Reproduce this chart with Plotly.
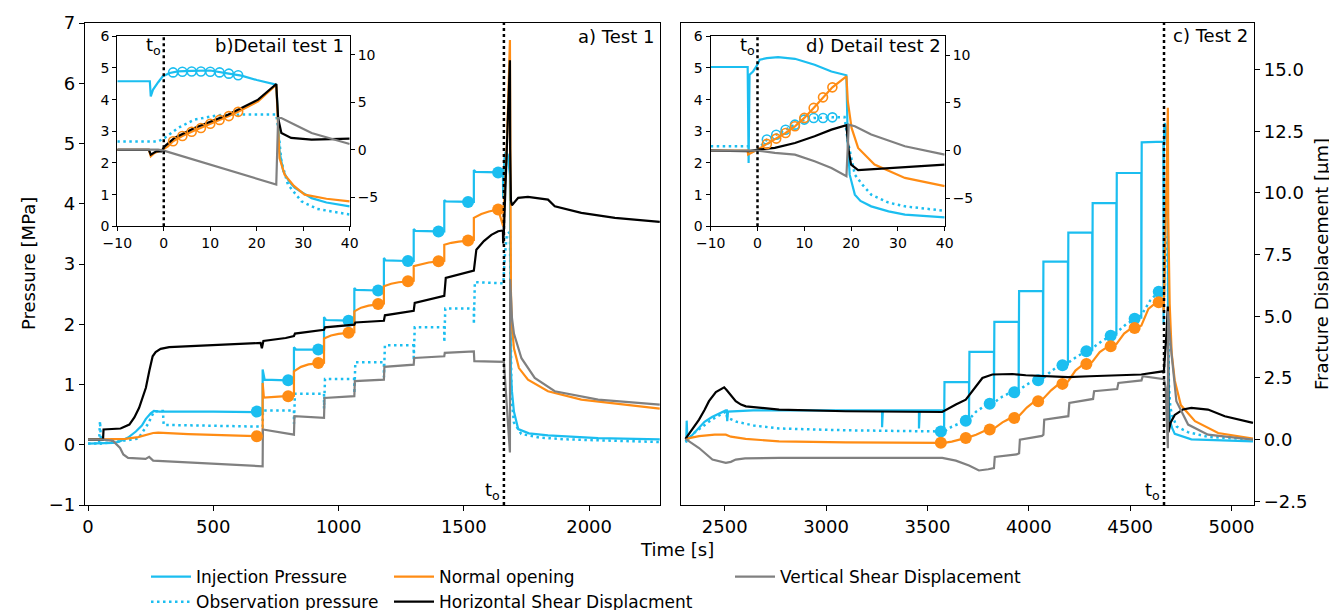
import plotly.graph_objects as go

# ------------------------------------------------------------------ data
# Test 1 (panel a) : time [s]
t0_1 = 1660
t0_2 = 4667

inj1_t = [0, 40, 100, 124, 160, 191, 215, 231, 250, 263, 285, 500, 690, 697, 697, 705, 794, 822, 822, 830,
          913, 942, 942, 950, 1037, 1063, 1063, 1070, 1159, 1181, 1181, 1188, 1275, 1300, 1300, 1307, 1393, 1422, 1422, 1429,
          1524, 1540, 1540, 1547, 1637, 1656, 1657, 1659, 1662, 1667, 1675, 1684, 1685, 1686, 1688, 1692, 1700, 1717, 1760, 1836,
          2036, 2282]
inj1_p = [0.02, 0.02, 0.03, 0.05, 0.12, 0.22, 0.32, 0.43, 0.52, 0.56, 0.55, 0.55, 0.54, 0.54, 1.25, 1.08, 1.07, 1.07, 1.62, 1.58,
          1.58, 1.58, 2.12, 2.07, 2.06, 2.06, 2.60, 2.57, 2.56, 2.56, 3.10, 3.06, 3.05, 3.05, 3.58, 3.55, 3.54, 3.54, 4.06, 4.04,
          4.03, 4.03, 4.56, 4.53, 4.52, 4.55, 4.10, 4.40, 4.74, 4.86, 4.82, 4.47, 2.40, 1.74, 1.21, 0.89, 0.55, 0.26, 0.19, 0.155,
          0.11, 0.09]

obs1_t = [0, 44, 48, 52, 200, 240, 263, 299, 302, 500, 697, 698, 822, 822, 826, 942, 942, 946, 1063, 1063,
          1067, 1181, 1181, 1185, 1300, 1300, 1304, 1422, 1422, 1426, 1540, 1540, 1544, 1658, 1663, 1672, 1684, 1685, 1686, 1687,
          1690, 1700, 1729, 1800, 1903, 2282]
obs1_p = [0.02, 0.02, 0.39, 0.02, 0.1, 0.35, 0.55, 0.56, 0.33, 0.32, 0.30, 0.57, 0.57, 0.35, 0.845, 0.845, 0.6, 1.09, 1.09, 0.85,
          1.37, 1.37, 1.12, 1.65, 1.65, 1.40, 1.95, 1.95, 1.70, 2.26, 2.26, 2.0, 2.70, 2.68, 3.1, 3.5, 3.53, 3.1, 2.05, 1.32,
          0.79, 0.37, 0.18, 0.12, 0.09, 0.045]

nor1_t = [0, 150, 200, 220, 260, 280, 400, 600, 697, 697, 702, 760, 822, 822, 850, 880, 919, 942, 942, 970,
          1000, 1040, 1063, 1063, 1090, 1120, 1158, 1181, 1181, 1210, 1240, 1277, 1300, 1300, 1330, 1360, 1399, 1422, 1422, 1450,
          1480, 1517, 1540, 1540, 1570, 1600, 1637, 1657, 1660, 1672, 1684, 1685, 1686, 1688, 1692, 1700, 1720, 1756, 1836, 1969,
          2282]
nor1_d = [0.0, 0.03, 0.1, 0.15, 0.27, 0.28, 0.22, 0.16, 0.14, 2.3, 1.7, 1.74, 1.78, 2.77, 2.95, 3.05, 3.11, 3.12, 4.1, 4.22,
          4.29, 4.33, 4.35, 5.2, 5.35, 5.43, 5.5, 5.52, 6.22, 6.32, 6.38, 6.42, 6.44, 7.03, 7.12, 7.18, 7.23, 7.25, 7.9, 7.98,
          8.03, 8.07, 8.09, 8.99, 9.15, 9.25, 9.33, 8.65, 9.35, 12.0, 16.2, 10.9, 8.5, 6.0, 4.6, 3.7, 2.9, 2.43, 1.96, 1.62,
          1.26]

hor1_t = [0, 60, 62, 130, 165, 185, 204, 218, 231, 245, 258, 270, 290, 324, 523, 689, 694, 700, 789, 822,
          826, 921, 942, 946, 1054, 1063, 1067, 1178, 1181, 1185, 1297, 1300, 1304, 1420, 1422, 1428, 1537, 1540, 1550, 1580,
          1610, 1637, 1656, 1657, 1659, 1660, 1684, 1685, 1686, 1688, 1692, 1700, 1717, 1756, 1836, 1863, 1969, 2103, 2282]
hor1_d = [0, 0, 0.41, 0.45, 0.61, 0.9, 1.29, 1.7, 2.1, 2.8, 3.38, 3.55, 3.68, 3.75, 3.85, 3.92, 3.7, 4.0, 4.12, 4.2,
          4.3, 4.4, 4.45, 4.55, 4.64, 4.66, 4.75, 4.8, 4.82, 5.04, 5.2, 5.22, 5.54, 5.81, 5.83, 6.56, 6.83, 6.85, 7.7, 8.05,
          8.3, 8.45, 8.48, 7.95, 8.3, 8.45, 15.38, 11.8, 10.2, 9.7, 9.5, 9.6, 9.8, 9.84, 9.73, 9.46, 9.19, 8.99, 8.83]

ver1_t = [0, 60, 100, 128, 141, 160, 230, 244, 260, 390, 523, 697, 698, 815, 822, 824, 940, 942, 944, 1054,
          1063, 1065, 1178, 1181, 1183, 1297, 1300, 1302, 1420, 1422, 1424, 1537, 1540, 1542, 1658, 1660, 1684, 1685, 1688, 1692,
          1700, 1730, 1783, 1863, 2036, 2282]
ver1_d = [0, 0, -0.05, -0.34, -0.6, -0.74, -0.78, -0.7, -0.85, -0.92, -1.01, -1.08, 0.41, 0.2, 0.2, 0.95, 0.88, 0.88, 1.69, 1.76,
          1.76, 2.37, 2.43, 2.43, 2.95, 3.04, 3.04, 3.31, 3.38, 3.38, 3.52, 3.58, 3.58, 3.18, 3.18, 3.15, -0.52, 6.5, 5.83, 4.95,
          4.3, 3.3, 2.5, 1.96, 1.62, 1.42]

mk1_t = [674, 799, 919, 1040, 1158, 1277, 1399, 1517, 1637]
mk1_inj = [0.55, 1.07, 1.58, 2.06, 2.56, 3.05, 3.54, 4.03, 4.52]
mk1_nor = [0.14, 1.76, 3.11, 4.33, 5.5, 6.42, 7.23, 8.07, 9.33]

# Test 2 (panel c)
inj2_t = [2306, 2310, 2312, 2316, 2350, 2400, 2437, 2470, 2505, 2510, 2512, 2516, 2640, 3276, 3276, 3280, 3458, 3458, 3462, 3582,
          3582, 3584, 3705, 3705, 3707, 3828, 3828, 3830, 3950, 3950, 3952, 4070, 4070, 4072, 4193, 4193, 4195, 4313, 4313, 4315,
          4432, 4432, 4434, 4555, 4555, 4557, 4664, 4665, 4666, 4668, 4671, 4675, 4679, 4683, 4686, 4687, 4688, 4691, 4699, 4707,
          4720, 4802, 5106]
inj2_p = [0.05, 0.05, 0.40, 0.08, 0.2, 0.38, 0.46, 0.52, 0.57, 0.57, 0.39, 0.55, 0.57, 0.57, 0.29, 0.57, 0.57, 0.27, 0.57, 0.57,
          0.22, 1.04, 1.04, 0.40, 1.54, 1.54, 0.68, 2.04, 2.04, 0.87, 2.55, 2.55, 1.07, 3.04, 3.04, 1.32, 3.52, 3.52, 1.55, 4.01,
          4.01, 1.81, 4.51, 4.51, 2.09, 5.02, 5.03, 2.0, 4.79, 5.26, 5.34, 5.29, 5.1, 4.89, 4.77, 1.63, 1.0, 0.63, 0.37, 0.28,
          0.18, 0.09, 0.055]

obs2_t = [2306, 2350, 2437, 2505, 2512, 2560, 2642, 2768, 3097, 3566, 3582, 3620, 3660, 3689, 3705, 3740, 3780, 3807, 3828, 3870,
          3900, 3928, 3950, 3990, 4020, 4046, 4070, 4110, 4140, 4166, 4193, 4240, 4284, 4313, 4360, 4404, 4432, 4480, 4522, 4555,
          4600, 4641, 4665, 4667, 4669, 4674, 4678, 4684, 4686, 4687, 4688, 4691, 4698, 4707, 4730, 4785, 4884, 5106]
obs2_p = [0.05, 0.2, 0.42, 0.55, 0.45, 0.38, 0.32, 0.27, 0.24, 0.22, 0.22, 0.30, 0.36, 0.40, 0.42, 0.55, 0.64, 0.68, 0.70, 0.80,
          0.85, 0.87, 0.90, 1.0, 1.05, 1.07, 1.10, 1.22, 1.29, 1.32, 1.36, 1.47, 1.55, 1.60, 1.72, 1.81, 1.86, 2.0, 2.09, 2.15,
          2.40, 2.54, 2.55, 2.45, 2.75, 3.16, 3.37, 3.45, 3.45, 2.68, 1.63, 1.0, 0.63, 0.49, 0.3, 0.21, 0.13, 0.09]

nor2_t = [2306, 2373, 2450, 2505, 2530, 2603, 2768, 3097, 3566, 3582, 3620, 3660, 3689, 3705, 3740, 3780, 3807, 3828, 3870, 3900,
          3928, 3950, 3990, 4020, 4046, 4070, 4110, 4140, 4166, 4193, 4230, 4260, 4284, 4313, 4350, 4380, 4404, 4432, 4470, 4500,
          4522, 4555, 4590, 4620, 4641, 4664, 4665, 4667, 4676, 4686, 4688, 4695, 4705, 4720, 4750, 4820, 4934, 5106]
nor2_d = [0.03, 0.14, 0.2, 0.2, 0.12, 0.03, -0.07, -0.11, -0.13, -0.13, -0.08, 0.0, 0.07, 0.1, 0.2, 0.35, 0.41, 0.45, 0.7, 0.83,
          0.88, 0.95, 1.3, 1.5, 1.56, 1.65, 2.0, 2.2, 2.26, 2.35, 2.8, 3.0, 3.07, 3.15, 3.55, 3.72, 3.79, 3.87, 4.3, 4.48,
          4.53, 4.62, 5.3, 5.5, 5.57, 5.6, 5.18, 5.6, 9.0, 13.45, 9.0, 5.5, 3.5, 2.4, 1.4, 0.75, 0.27, 0.04]

hor2_t = [2306, 2340, 2373, 2400, 2422, 2456, 2485, 2497, 2510, 2530, 2554, 2580, 2604, 2768, 3097, 3573, 3600, 3640, 3689, 3722,
          3771, 3820, 3919, 3985, 4100, 4193, 4300, 4450, 4555, 4662, 4665, 4667, 4675, 4680, 4686, 4687, 4689, 4700, 4720, 4760,
          4802, 4884, 4967, 5106]
hor2_d = [0.03, 0.4, 0.81, 1.2, 1.56, 1.93, 2.08, 2.12, 2.0, 1.8, 1.56, 1.42, 1.35, 1.22, 1.15, 1.12, 1.25, 1.42, 1.62, 1.96,
          2.5, 2.64, 2.66, 2.61, 2.58, 2.53, 2.57, 2.6, 2.64, 2.77, 2.7, 2.85, 3.6, 4.4, 5.4, 2.8, 0.3, 0.7, 1.0, 1.22,
          1.29, 1.22, 0.95, 0.68]

ver2_t = [2306, 2373, 2439, 2505, 2530, 2554, 2600, 2768, 3573, 3640, 3705, 3754, 3800, 3828, 3832, 3940, 3952, 3956, 4065, 4072,
          4076, 4190, 4195, 4200, 4310, 4317, 4322, 4430, 4436, 4442, 4550, 4556, 4562, 4664, 4667, 4675, 4686, 4687, 4690, 4703,
          4728, 4786, 4884, 5106]
ver2_d = [0.03, -0.34, -0.81, -0.94, -0.9, -0.81, -0.76, -0.74, -0.74, -0.85, -1.05, -1.25, -1.2, -1.15, -0.7, -0.6, -0.55, 0.0, 0.15, 0.2,
          0.81, 0.95, 0.95, 1.49, 1.62, 1.65, 1.96, 2.03, 2.05, 2.3, 2.37, 2.4, 2.57, 2.43, 2.45, 2.1, -0.35, 5.2, 4.8, 3.58,
          1.56, 0.61, 0.2, 0.0]

mk2_t = [3566, 3689, 3807, 3928, 4046, 4166, 4284, 4404, 4522, 4641]
mk2_obs = [0.22, 0.40, 0.68, 0.87, 1.07, 1.32, 1.55, 1.81, 2.09, 2.54]
mk2_nor = [-0.13, 0.07, 0.41, 0.88, 1.56, 2.26, 3.07, 3.79, 4.53, 5.57]

# Inset b (detail test 1), time relative to t_o [s]
insB_inj_t = [-10, -3.0, -2.8, -2.3, -1.2, -0.2, 1.3, 3, 6, 10, 14, 16.7, 20, 24.2, 24.6, 24.9, 25.7, 27, 28.2, 31.8, 35, 40]
insB_inj_p = [4.58, 4.58, 4.1, 4.32, 4.55, 4.74, 4.84, 4.89, 4.91, 4.92, 4.82, 4.76, 4.62, 4.47, 3.42, 2.37, 1.74, 1.4, 1.21, 0.89, 0.75, 0.63]
insB_obs_t = [-10, -1.2, 0.2, 3, 6.6, 11.7, 17.4, 24.2, 24.6, 25.3, 26.7, 29.6, 33, 40]
insB_obs_p = [2.68, 2.68, 2.79, 3.1, 3.37, 3.51, 3.53, 3.53, 3.1, 2.05, 1.32, 0.79, 0.55, 0.37]
insB_nor_t = [-10, -3.2, -2.8, -2.0, -0.2, 0.9, 2, 4, 6, 8, 10, 12, 14, 16, 20.3, 24.2, 24.6, 24.9, 26, 28, 30.3, 35, 40]
insB_nor_d = [0, 0, -0.68, -0.33, 0.02, 0.37, 0.9, 1.45, 1.9, 2.3, 2.75, 3.15, 3.55, 4.0, 5.1, 6.86, 1.6, -0.86, -2.61, -3.8, -4.72, -5.15, -5.42]
insB_hor_t = [-10, -3.2, -2.8, -1.6, -0.5, 0.2, 2.3, 6.6, 13.8, 20.3, 24.2, 24.6, 25.3, 27.4, 31.8, 40]
insB_hor_d = [0, 0, -0.51, -0.16, -0.16, 0.37, 1.25, 2.3, 3.7, 5.28, 6.93, 3.35, 1.78, 1.25, 1.07, 1.18]
insB_ver_t = [-10, -1.2, 0, 10, 17, 24.2, 24.6, 25.3, 28.2, 31.8, 40]
insB_ver_d = [0.02, 0.02, -0.08, -1.55, -2.6, -3.66, 3.35, 3.35, 2.65, 1.77, 0.62]
insB_mk_t = [2, 4, 6, 8, 10, 12, 14, 16]
insB_mk_inj = [4.86, 4.88, 4.89, 4.89, 4.88, 4.86, 4.82, 4.77]
insB_mk_nor = [0.9, 1.45, 1.9, 2.3, 2.75, 3.15, 3.55, 4.0]

# Inset d (detail test 2)
insD_inj_t = [-10, -2.1, -1.9, -1.7, -0.95, -0.24, 0.47, 2, 4.4, 8, 12.2, 15.8, 19.0, 19.3, 19.7, 20.8, 22, 24.3, 28, 31.5, 40]
insD_inj_p = [5.03, 5.03, 2.0, 4.79, 4.89, 5.05, 5.26, 5.31, 5.34, 5.29, 5.1, 4.89, 4.77, 2.58, 1.63, 1.0, 0.8, 0.63, 0.47, 0.37, 0.28]
insD_obs_t = [-10, -2.0, -1.9, 0, 2, 4, 6, 8, 10, 12, 16, 18.6, 19.3, 20.8, 22.5, 24.3, 28, 31.5, 40]
insD_obs_p = [2.53, 2.53, 2.3, 2.42, 2.74, 2.89, 3.05, 3.21, 3.37, 3.42, 3.44, 3.45, 2.68, 1.63, 1.3, 1.0, 0.75, 0.63, 0.49]
insD_nor_t = [-10, -2.1, -2.0, -0.6, 0, 2, 4, 6, 8, 10, 12, 14, 16, 19, 19.3, 20.1, 21.5, 25, 31.5, 40]
insD_nor_d = [0, 0, -0.42, -0.07, 0.1, 0.7, 1.26, 1.85, 2.55, 3.43, 4.48, 5.59, 6.64, 7.8, 5.17, 2.38, 0.28, -1.47, -2.87, -3.74]
insD_hor_t = [-10, -2, 0.1, 3.7, 8, 12.2, 15.8, 19, 19.5, 20, 21.5, 23.6, 27.9, 35, 40]
insD_hor_d = [0, -0.07, 0.1, 0.28, 0.8, 1.5, 2.2, 2.66, -0.07, -1.47, -2.06, -2.0, -1.82, -1.64, -1.47]
insD_ver_t = [-10, 0, 3.7, 8, 12.2, 15.8, 19, 19.5, 20.8, 24.3, 31.5, 40]
insD_ver_d = [0, 0, -0.24, -0.42, -1.12, -1.82, -2.69, 2.73, 2.55, 1.68, 0.45, -0.42]
insD_mk_t = [2, 4, 6, 8, 10, 12, 14, 16]
insD_mk_obs = [2.74, 2.89, 3.05, 3.21, 3.37, 3.42, 3.42, 3.44]
insD_mk_nor = [0.7, 1.26, 1.85, 2.55, 3.43, 4.48, 5.59, 6.64]

series_names = ["Injection Pressure", "Observation pressure", "Normal opening",
                "Horizontal Shear Displacment", "Vertical Shear Displacement"]

# ------------------------------------------------------------------ style
FONT = "DejaVu Sans"
BLUE = "#1BBEF0"
ORANGE = "#FF8C14"
BLACK = "#000000"
GRAY = "#808080"
DOT = "2.5px,3.5px"

fig = go.Figure()


def line(x, y, xa, ya, color, dash="solid", width=2.2, name=None, legend=None, show=False):
    fig.add_trace(go.Scatter(x=x, y=y, xaxis=xa, yaxis=ya, mode="lines",
                             line=dict(color=color, width=width, dash=dash),
                             name=name, legend=legend, showlegend=show, hoverinfo="skip"))


def marks(x, y, xa, ya, color, size=12, hollow=False):
    if hollow:
        m = dict(symbol="circle-open", size=size, color=color, line=dict(width=1.6, color=color))
    else:
        m = dict(symbol="circle", size=size, color=color, line=dict(width=0))
    fig.add_trace(go.Scatter(x=x, y=y, xaxis=xa, yaxis=ya, mode="markers", marker=m,
                             showlegend=False, hoverinfo="skip"))


# panel a
line(inj1_t, inj1_p, "x", "y", BLUE, name=series_names[0], legend="legend", show=True)
line(obs1_t, obs1_p, "x", "y", BLUE, dash=DOT, width=2.5, name=series_names[1], legend="legend", show=True)
marks(mk1_t, mk1_inj, "x", "y", BLUE)
line(nor1_t, nor1_d, "x", "y3", ORANGE, name=series_names[2], legend="legend2", show=True)
line(hor1_t, hor1_d, "x", "y3", BLACK, name=series_names[3], legend="legend2", show=True)
line(ver1_t, ver1_d, "x", "y3", GRAY, name=series_names[4], legend="legend3", show=True)
marks(mk1_t, mk1_nor, "x", "y3", ORANGE)

# panel c
line(inj2_t, inj2_p, "x2", "y2", BLUE)
line(obs2_t, obs2_p, "x2", "y2", BLUE, dash=DOT, width=2.5)
marks(mk2_t, mk2_obs, "x2", "y2", BLUE)
line(nor2_t, nor2_d, "x2", "y4", ORANGE)
line(hor2_t, hor2_d, "x2", "y4", BLACK)
line(ver2_t, ver2_d, "x2", "y4", GRAY)
marks(mk2_t, mk2_nor, "x2", "y4", ORANGE)

# inset b
line(insB_inj_t, insB_inj_p, "x3", "y5", BLUE)
line(insB_obs_t, insB_obs_p, "x3", "y5", BLUE, dash=DOT, width=2.5)
marks(insB_mk_t, insB_mk_inj, "x3", "y5", BLUE, size=9, hollow=True)
line(insB_nor_t, insB_nor_d, "x3", "y6", ORANGE)
line(insB_hor_t, insB_hor_d, "x3", "y6", BLACK)
line(insB_ver_t, insB_ver_d, "x3", "y6", GRAY)
marks(insB_mk_t, insB_mk_nor, "x3", "y6", ORANGE, size=9, hollow=True)

# inset d
line(insD_inj_t, insD_inj_p, "x4", "y7", BLUE)
line(insD_obs_t, insD_obs_p, "x4", "y7", BLUE, dash=DOT, width=2.5)
marks(insD_mk_t, insD_mk_obs, "x4", "y7", BLUE, size=9, hollow=True)
line(insD_nor_t, insD_nor_d, "x4", "y8", ORANGE)
line(insD_hor_t, insD_hor_d, "x4", "y8", BLACK)
line(insD_ver_t, insD_ver_d, "x4", "y8", GRAY)
marks(insD_mk_t, insD_mk_nor, "x4", "y8", ORANGE, size=9, hollow=True)

# ------------------------------------------------------------------ layout
W, H = 1337, 610
ML, MR, MT, MB = 77, 91, 15, 113
PW = W - ML - MR
PH = H - MT - MB


def px_x(p):
    return (p - ML) / PW


def px_y(p):
    return (H - MB - p) / PH


base = dict(showline=True, linecolor="black", linewidth=1.3, mirror=True, ticks="outside",
            ticklen=5, tickwidth=1.2, tickcolor="black", showgrid=False, zeroline=False, automargin=False,
            tickfont=dict(family=FONT, size=18, color="black"))
inset = dict(base, ticklen=4, tickfont=dict(family=FONT, size=14, color="black"))

dispR = [-2.65, 16.89]
inB = [px_x(109.3), px_x(341.7)]
inD = [px_x(702.7), px_x(936.7)]
inY = [px_y(218.3), px_y(28.3)]

leg = dict(xanchor="left", yanchor="top", xref="container", yref="container", bgcolor="rgba(0,0,0,0)",
           font=dict(family=FONT, size=17, color="black"), itemwidth=40)
LEG_TOP = 1 - 551 / H

fig.update_layout(
    width=W, height=H, margin=dict(l=ML, r=MR, t=MT, b=MB, autoexpand=False),
    paper_bgcolor="white", plot_bgcolor="white",
    font=dict(family=FONT, size=18, color="black"),
    xaxis=dict(base, domain=[0, px_x(652)], range=[-12, 2283], tickvals=[0, 500, 1000, 1500, 2000], anchor="y"),
    yaxis=dict(base, domain=[0, 1], range=[-1, 7], dtick=1, anchor="x"),
    yaxis3=dict(range=dispR, overlaying="y", visible=False, anchor="x"),
    xaxis2=dict(base, domain=[px_x(673), 1], range=[2284, 5111], tickvals=[2500, 3000, 3500, 4000, 4500, 5000], anchor="y2"),
    yaxis2=dict(base, domain=[0, 1], range=[-1, 7], anchor="x2", showticklabels=False, ticks=""),
    yaxis4=dict(base, range=dispR, overlaying="y2", side="right", anchor="x2", mirror=False,
                tickvals=[-2.5, 0, 2.5, 5, 7.5, 10, 12.5, 15], tickformat=".1f"),
    xaxis3=dict(inset, domain=inB, range=[-10, 40], dtick=10, anchor="y5"),
    yaxis5=dict(inset, domain=inY, range=[0, 6], dtick=1, anchor="x3"),
    yaxis6=dict(inset, range=[-8.05, 11.95], overlaying="y5", side="right", anchor="x3", mirror=False,
                tickvals=[-5, 0, 5, 10]),
    xaxis4=dict(inset, domain=inD, range=[-10, 40], dtick=10, anchor="y7"),
    yaxis7=dict(inset, domain=inY, range=[0, 6], dtick=1, anchor="x4"),
    yaxis8=dict(inset, range=[-7.95, 12.0], overlaying="y7", side="right", anchor="x4", mirror=False,
                tickvals=[-5, 0, 5, 10]),
    legend=dict(leg, x=138 / W, y=LEG_TOP),
    legend2=dict(leg, x=381 / W, y=LEG_TOP),
    legend3=dict(leg, x=722 / W, y=LEG_TOP),
)

# t_o dotted lines
for xr, yr, xv in [("x", "y domain", t0_1), ("x2", "y2 domain", t0_2), ("x3", "y5 domain", 0), ("x4", "y7 domain", 0)]:
    fig.add_shape(type="line", xref=xr, yref=yr, x0=xv, x1=xv, y0=0, y1=1,
                  line=dict(color="black", width=2.5, dash="dot"))

ann = [
    dict(text="Time [s]", xref="paper", yref="paper", x=px_x(669), y=px_y(541), xanchor="center", yanchor="middle"),
    dict(text="Pressure [MPa]", xref="paper", yref="paper", x=px_x(20), y=0.5, textangle=-90,
         xanchor="center", yanchor="middle"),
    dict(text="Fracture Displacement [μm]", xref="paper", yref="paper", x=px_x(1313), y=0.5, textangle=-90,
         xanchor="center", yanchor="middle"),
    dict(text="a) Test 1", xref="x domain", yref="y domain", x=0.993, y=px_y(28), xanchor="right", yanchor="middle"),
    dict(text="c) Test 2", xref="x2 domain", yref="y2 domain", x=0.993, y=px_y(27), xanchor="right", yanchor="middle"),
    dict(text="b)Detail test 1", xref="x3 domain", yref="y5 domain", x=0.985, y=0.95, xanchor="right", yanchor="middle"),
    dict(text="d) Detail test 2", xref="x4 domain", yref="y7 domain", x=0.993, y=0.95, xanchor="right", yanchor="middle"),
    dict(text="t<sub>o</sub>", xref="x", yref="y domain", x=t0_1, y=0.03, xanchor="right", yanchor="middle", xshift=-2),
    dict(text="t<sub>o</sub>", xref="x2", yref="y2 domain", x=t0_2, y=0.03, xanchor="right", yanchor="middle", xshift=-2),
    dict(text="t<sub>o</sub>", xref="x3", yref="y5 domain", x=0, y=0.95, xanchor="right", yanchor="middle", xshift=-1),
    dict(text="t<sub>o</sub>", xref="x4", yref="y7 domain", x=0, y=0.95, xanchor="right", yanchor="middle", xshift=-1),
]
for a in ann:
    a.setdefault("showarrow", False)
    a.setdefault("font", dict(family=FONT, size=18, color="black"))
    fig.add_annotation(**a)

fig.write_html("out.html")
